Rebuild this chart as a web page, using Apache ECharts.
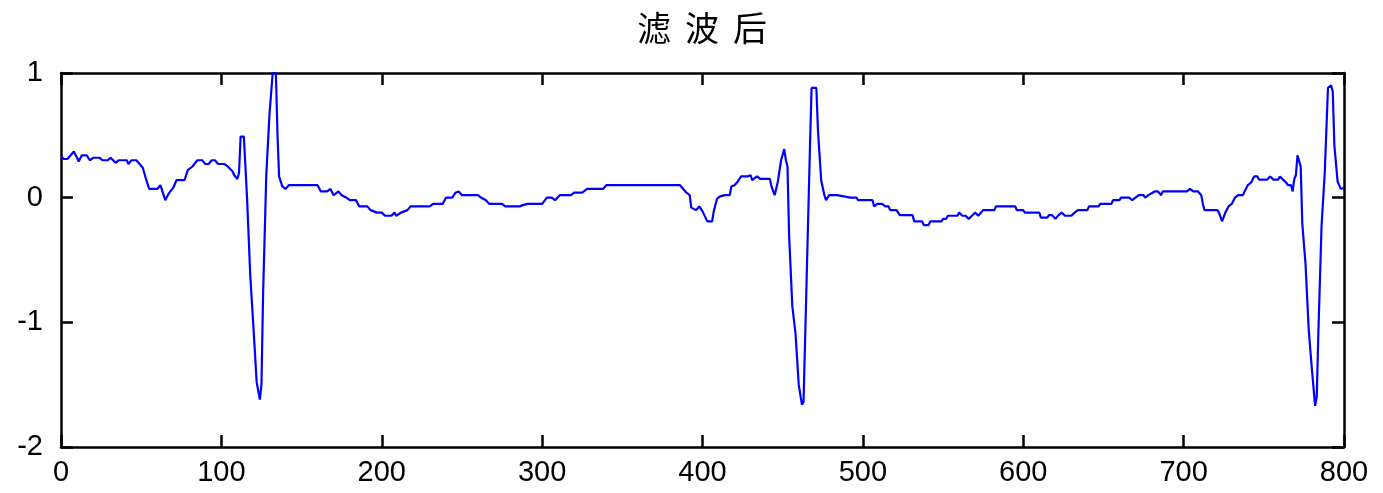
<!DOCTYPE html>
<html>
<head>
<meta charset="utf-8">
<script src="https://cdn.jsdelivr.net/npm/echarts@6/dist/echarts.min.js"></script>
<style>html,body{margin:0;padding:0;background:#fff;}#c{width:1383px;height:493px;}</style>
</head>
<body>
<div id="c"></div>
<script>
const titleChars = ['滤', '波', '后'];
const xTicks = [0,100,200,300,400,500,600,700,800];
const yTicks = [-2,-1,0,1];
const xs = [0,2,4,6,8,10,11,13,16,18,20,24,26,29,31,34,36,41,42,44,47,49,51,53,55,60,62,64,65,67,70,72,77,79,82,85,88,90,92,94,96,98,102,104,107,108,110,111,112,114,115,116,118,120,122,124,125,126,128,130,132,134,135,136,138,140,142,160,162,166,168,170,173,175,178,180,184,186,191,193,197,200,202,206,208,209,212,216,218,230,232,238,240,244,246,248,250,260,262,265,267,275,277,286,288,291,300,303,306,308,311,318,320,325,328,338,340,386,388,390,392,393,396,398,400,403,406,407,409,411,414,417,418,420,422,424,428,430,431,434,436,442,443,445,447,449,451,452,453,454,456,458,460,462,463,465,467,468,471,472,474,476,477,479,484,488,492,496,497,506,507,509,512,514,516,517,521,522,523,531,532,537,538,541,542,549,550,552,553,559,560,562,564,566,568,570,572,575,582,583,595,596,600,601,610,611,615,616,618,620,622,624,626,630,632,634,640,641,647,648,655,656,660,661,666,668,670,672,675,676,678,682,684,686,687,702,704,706,709,711,712,713,721,722,724,726,728,730,732,734,737,738,740,742,744,746,747,752,754,756,759,760,762,764,765,767,768,769,770,771,772,773,774,776,778,780,782,783,784,786,788,790,792,793,794,796,798,800];
const ys = [0.33,0.31,0.31,0.34,0.37,0.32,0.29,0.34,0.34,0.30,0.32,0.32,0.30,0.30,0.32,0.28,0.30,0.30,0.27,0.30,0.30,0.27,0.24,0.15,0.07,0.07,0.10,0.02,-0.02,0.03,0.08,0.14,0.14,0.22,0.25,0.30,0.30,0.27,0.27,0.30,0.30,0.27,0.27,0.25,0.21,0.18,0.15,0.20,0.49,0.49,0.25,0.0,-0.62,-1.04,-1.48,-1.62,-1.50,-0.78,0.18,0.67,1.0,1.0,0.5,0.17,0.09,0.07,0.10,0.10,0.05,0.05,0.07,0.02,0.05,0.02,0.0,-0.02,-0.02,-0.07,-0.07,-0.10,-0.12,-0.12,-0.145,-0.145,-0.12,-0.145,-0.12,-0.10,-0.07,-0.07,-0.05,-0.05,0.0,0.0,0.04,0.05,0.02,0.02,0.0,-0.02,-0.05,-0.05,-0.07,-0.07,-0.06,-0.05,-0.05,0.0,0.0,-0.02,0.02,0.02,0.04,0.04,0.07,0.07,0.10,0.10,0.07,0.04,0.02,-0.08,-0.10,-0.07,-0.11,-0.19,-0.19,-0.11,-0.01,0.01,0.02,0.02,0.09,0.10,0.13,0.17,0.17,0.18,0.14,0.17,0.15,0.15,0.09,0.02,0.13,0.30,0.39,0.30,0.25,-0.3,-0.87,-1.09,-1.5,-1.66,-1.64,-0.62,0.40,0.88,0.88,0.54,0.14,0.02,-0.02,0.02,0.02,0.01,0.0,0.0,-0.02,-0.02,-0.07,-0.05,-0.05,-0.07,-0.07,-0.10,-0.10,-0.12,-0.14,-0.14,-0.19,-0.19,-0.22,-0.22,-0.19,-0.19,-0.17,-0.17,-0.145,-0.145,-0.12,-0.145,-0.145,-0.17,-0.145,-0.12,-0.145,-0.10,-0.10,-0.07,-0.07,-0.10,-0.10,-0.12,-0.12,-0.16,-0.16,-0.14,-0.14,-0.17,-0.14,-0.12,-0.145,-0.145,-0.12,-0.10,-0.10,-0.07,-0.07,-0.05,-0.05,-0.02,-0.02,0.0,0.0,-0.02,0.0,0.02,0.02,0.0,0.02,0.05,0.05,0.02,0.05,0.05,0.07,0.05,0.05,0.02,-0.05,-0.10,-0.10,-0.12,-0.19,-0.12,-0.07,-0.05,0.0,0.02,0.02,0.05,0.10,0.12,0.17,0.17,0.145,0.145,0.17,0.145,0.145,0.17,0.145,0.12,0.10,0.10,0.05,0.15,0.18,0.34,0.34,0.25,-0.21,-0.53,-1.06,-1.38,-1.67,-1.6,-1.09,-0.23,0.2,0.88,0.9,0.85,0.42,0.13,0.07,0.08];

const data = xs.map((x, i) => [x, ys[i]]);
const chart = echarts.init(document.getElementById('c'), null, {renderer: 'canvas'});
const axisLine = {show: true, onZero: false, lineStyle: {color: '#000', width: 2.5}};
const axisTick = {show: true, inside: true, length: 12, lineStyle: {color: '#000', width: 2.5}};
const labelStyle = {color: '#000', fontFamily: 'Liberation Sans', fontSize: 29};
chart.setOption({
  animation: false,
  backgroundColor: '#fff',
  title: {
    text: titleChars.map(c => '{a|' + c + '}').join(''),
    left: 697,
    top: 6,
    textAlign: 'center',
    textStyle: {
      fontFamily: 'Noto Sans CJK SC', fontSize: 34, fontWeight: 'normal', color: '#000',
      rich: {a: {fontFamily: 'Noto Sans CJK SC', fontSize: 34, fontWeight: 'normal', color: '#000', padding: [0, 7, 0, 7]}}
    }
  },
  grid: {left: 61, top: 73, width: 1283, height: 374, containLabel: false},
  xAxis: [
    {type: 'value', min: 0, max: 800, interval: 100, position: 'bottom',
     axisLine, axisTick, splitLine: {show: false},
     axisLabel: Object.assign({margin: 11, showMinLabel: true, showMaxLabel: true}, labelStyle)},
    {type: 'value', min: 0, max: 800, interval: 100, position: 'top',
     axisLine, axisTick, splitLine: {show: false}, axisLabel: {show: false}}
  ],
  yAxis: [
    {type: 'value', min: -2, max: 1, interval: 1, position: 'left',
     axisLine, axisTick, splitLine: {show: false},
     axisLabel: Object.assign({margin: 18}, labelStyle)},
    {type: 'value', min: -2, max: 1, interval: 1, position: 'right',
     axisLine, axisTick, splitLine: {show: false}, axisLabel: {show: false}}
  ],
  series: [{
    type: 'line',
    data: data,
    xAxisIndex: 0,
    yAxisIndex: 0,
    showSymbol: false,
    clip: true,
    lineStyle: {color: '#0000ff', width: 2.2},
    silent: true
  }]
});
</script>
</body>
</html>
